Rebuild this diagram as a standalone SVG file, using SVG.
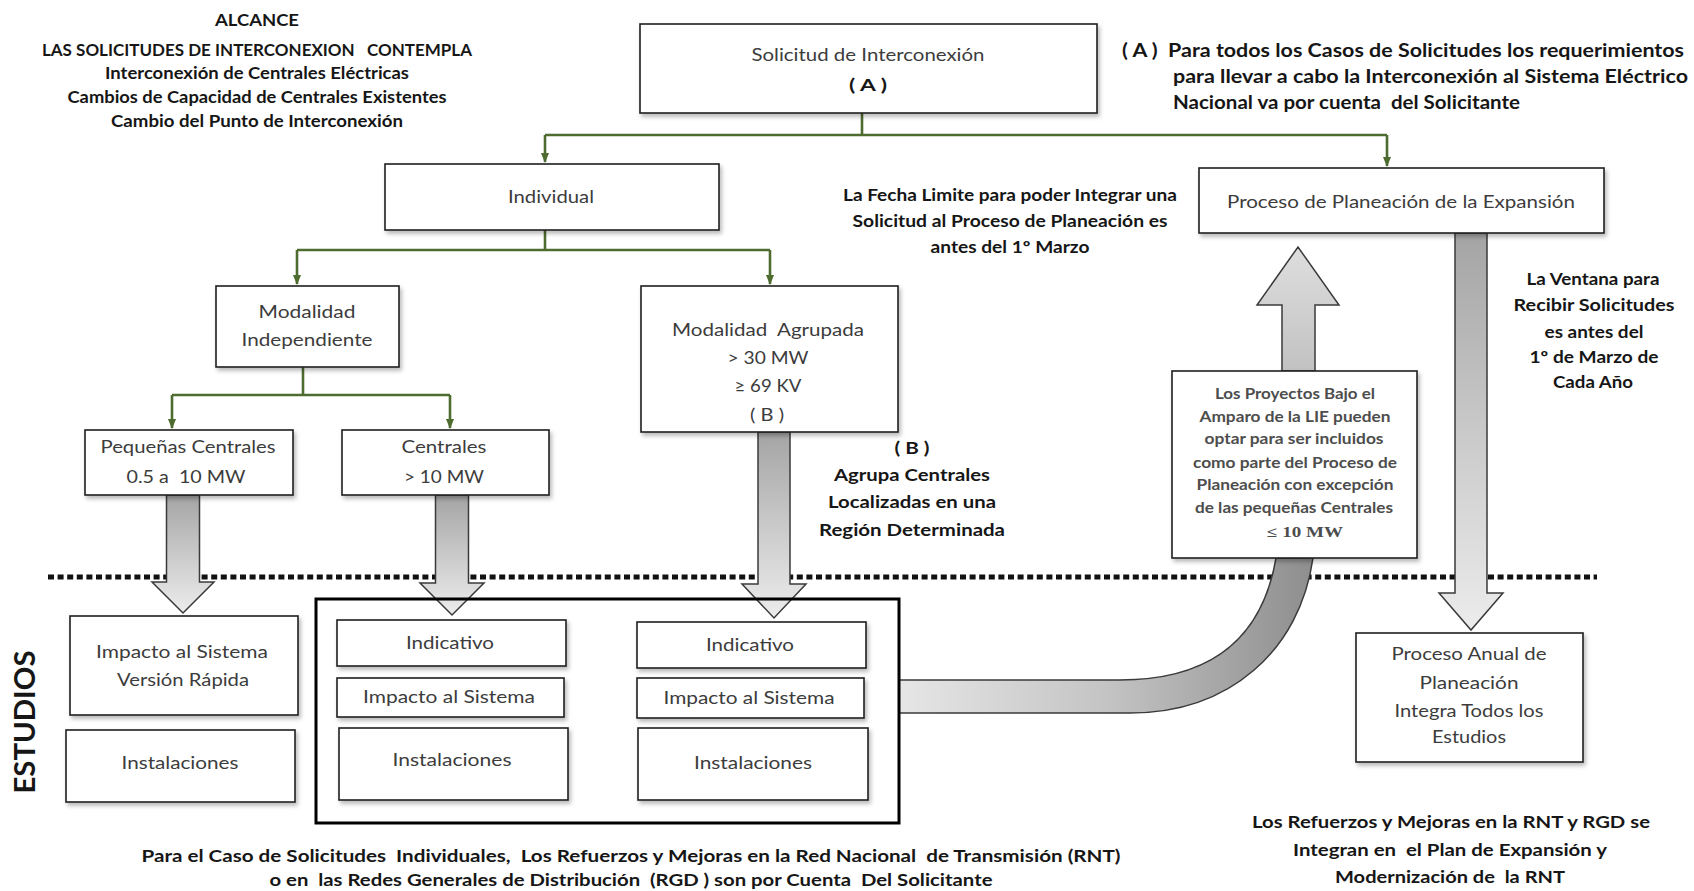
<svg xmlns="http://www.w3.org/2000/svg" width="1694" height="891" viewBox="0 0 1694 891">
<style>
text { font-family: Lato, "Liberation Sans", "Noto Sans", sans-serif; }
.n { font-size: 18px; fill: #3c3c3c; text-anchor: middle; }
.b { font-size: 17px; font-weight: bold; fill: #161616; text-anchor: middle; }
.bl { font-size: 18px; font-weight: bold; fill: #161616; text-anchor: start; }
.p { font-size: 14.5px; font-weight: bold; fill: #4d4d4d; text-anchor: middle; }
.box { fill: #ffffff; stroke: #1e1e1e; stroke-width: 1.6; filter: url(#sh); }
.g { fill: none; stroke: #4e6b30; stroke-width: 2.6; }
.ga { fill: none; stroke: #4e6b30; stroke-width: 2.6; marker-end: url(#ah); }
.blk { stroke: #3a3a3a; stroke-width: 1.5; }
</style>
<defs>
<filter id="sh" x="-10%" y="-10%" width="125%" height="135%">
<feDropShadow dx="2" dy="3" stdDeviation="2" flood-color="#000000" flood-opacity="0.28"/>
</filter>
<marker id="ah" viewBox="0 0 10 10" refX="9" refY="5" markerWidth="10" markerHeight="10" markerUnits="userSpaceOnUse" orient="auto">
<path d="M0,1 L10,5 L0,9 z" fill="#4e6b30"/>
</marker>
<linearGradient id="gd" x1="0" y1="0" x2="0" y2="1">
<stop offset="0" stop-color="#a4a4a4"/>
<stop offset="0.55" stop-color="#cdcdcd"/>
<stop offset="1" stop-color="#ececec"/>
</linearGradient>
<linearGradient id="gu" x1="0" y1="1" x2="0" y2="0">
<stop offset="0" stop-color="#c2c2c2"/>
<stop offset="1" stop-color="#dedede"/>
</linearGradient>
<linearGradient id="gb" gradientUnits="userSpaceOnUse" x1="899" y1="0" x2="1313" y2="0">
<stop offset="0" stop-color="#e6e6e6"/>
<stop offset="0.5" stop-color="#c4c4c4"/>
<stop offset="1" stop-color="#8e8e8e"/>
</linearGradient>
</defs>
<rect x="0" y="0" width="1694" height="891" fill="#ffffff"/>

<!-- dotted separator -->
<line x1="48" y1="577" x2="1597" y2="577" stroke="#111" stroke-width="5" stroke-dasharray="6 3.6"/>

<!-- connectors -->
<g id="connectors">
<path class="g" d="M862,113 V135"/>
<path class="g" d="M545,135 H1387"/>
<path class="ga" d="M545,135 V162"/>
<path class="ga" d="M1387,135 V166"/>
<path class="g" d="M545,230 V250"/>
<path class="g" d="M297,250 H770"/>
<path class="ga" d="M297,250 V284"/>
<path class="ga" d="M770,250 V284"/>
<path class="g" d="M303,367 V395"/>
<path class="g" d="M172,395 H450"/>
<path class="ga" d="M172,395 V428"/>
<path class="ga" d="M450,395 V428"/>
<path class="blk" fill="url(#gd)" d="M166.5,495 H199.5 V582 H214 L183,613 L152,582 H166.5 Z"/>
<path class="blk" fill="url(#gd)" d="M435.5,495 H468.5 V583 H484 L452,615 L420,583 H435.5 Z"/>
<path class="blk" fill="url(#gd)" d="M758,432 H790 V584 H806 L774,618 L742,584 H758 Z"/>
<path class="blk" fill="url(#gd)" d="M1455,233 H1487 V593 H1503 L1471,630 L1439,593 H1455 Z"/>
<path class="blk" fill="url(#gu)" d="M1282,371 V305 H1257 L1298,247 L1339,305 H1315 V371 Z"/>
<path class="blk" fill="url(#gb)" d="M899,680 H1120 C1210,680 1262,640 1276,558 H1313 C1300,650 1230,713 1130,713 H899 Z"/>
</g>

<!-- scope text -->
<g id="alcance">
<text class="b" x="257" y="26" font-size="16" textLength="84" lengthAdjust="spacingAndGlyphs">ALCANCE</text>
<text class="b" x="257" y="56" font-size="16" xml:space="preserve" textLength="430" lengthAdjust="spacingAndGlyphs">LAS SOLICITUDES DE INTERCONEXION   CONTEMPLA</text>
<text class="b" x="257" y="79" font-size="16" textLength="304" lengthAdjust="spacingAndGlyphs">Interconexión de Centrales Eléctricas</text>
<text class="b" x="257" y="103" font-size="16" textLength="379" lengthAdjust="spacingAndGlyphs">Cambios de Capacidad de Centrales Existentes</text>
<text class="b" x="257" y="127" font-size="16" textLength="292" lengthAdjust="spacingAndGlyphs">Cambio del Punto de Interconexión</text>
</g>

<g id="solicitud">
<rect class="box" x="640" y="24" width="457" height="89"/>
<text class="n" x="868" y="61" textLength="233" lengthAdjust="spacingAndGlyphs">Solicitud de Interconexión</text>
<text class="b" x="868" y="91" font-size="18" xml:space="preserve" textLength="38" lengthAdjust="spacingAndGlyphs">( A )</text>
</g>

<g id="nota-a">
<text class="bl" x="1122" y="57" xml:space="preserve" textLength="562" lengthAdjust="spacingAndGlyphs">( A )  Para todos los Casos de Solicitudes los requerimientos</text>
<text class="bl" x="1173" y="83" textLength="515" lengthAdjust="spacingAndGlyphs">para llevar a cabo la Interconexión al Sistema Eléctrico</text>
<text class="bl" x="1173" y="109" xml:space="preserve" textLength="347" lengthAdjust="spacingAndGlyphs">Nacional va por cuenta  del Solicitante</text>
</g>

<g id="individual">
<rect class="box" x="385" y="164" width="334" height="66"/>
<text class="n" x="551" y="203" textLength="86" lengthAdjust="spacingAndGlyphs">Individual</text>
</g>

<g id="nota-fecha">
<text class="b" x="1010" y="201" textLength="334" lengthAdjust="spacingAndGlyphs">La Fecha Limite para poder Integrar una</text>
<text class="b" x="1010" y="227" textLength="315" lengthAdjust="spacingAndGlyphs">Solicitud al Proceso de Planeación es</text>
<text class="b" x="1010" y="253" textLength="159" lengthAdjust="spacingAndGlyphs">antes del 1º Marzo</text>
</g>

<g id="proceso-planeacion">
<rect class="box" x="1199" y="168" width="405" height="65"/>
<text class="n" x="1401" y="208" textLength="348" lengthAdjust="spacingAndGlyphs">Proceso de Planeación de la Expansión</text>
</g>

<g id="nota-ventana">
<text class="b" x="1593" y="285" textLength="133" lengthAdjust="spacingAndGlyphs">La Ventana para</text>
<text class="b" x="1594" y="311" textLength="161" lengthAdjust="spacingAndGlyphs">Recibir Solicitudes</text>
<text class="b" x="1594" y="338" textLength="99" lengthAdjust="spacingAndGlyphs">es antes del</text>
<text class="b" x="1594" y="363" textLength="129" lengthAdjust="spacingAndGlyphs">1º de Marzo de</text>
<text class="b" x="1593" y="388" textLength="80" lengthAdjust="spacingAndGlyphs">Cada Año</text>
</g>

<g id="modalidad-independiente">
<rect class="box" x="216" y="286" width="183" height="81"/>
<text class="n" x="307" y="318" textLength="97" lengthAdjust="spacingAndGlyphs">Modalidad</text>
<text class="n" x="307" y="346" textLength="131" lengthAdjust="spacingAndGlyphs">Independiente</text>
</g>

<g id="modalidad-agrupada">
<rect class="box" x="641" y="286" width="257" height="146"/>
<text class="n" x="768" y="336" xml:space="preserve" textLength="192" lengthAdjust="spacingAndGlyphs">Modalidad  Agrupada</text>
<text class="n" x="768" y="364" textLength="81" lengthAdjust="spacingAndGlyphs">&gt; 30 MW</text>
<text class="n" x="768" y="392" textLength="67" lengthAdjust="spacingAndGlyphs">≥ 69 KV</text>
<text class="n" x="767" y="421" xml:space="preserve" textLength="34" lengthAdjust="spacingAndGlyphs">( B )</text>
</g>

<g id="nota-b">
<text class="b" x="912" y="454" xml:space="preserve" textLength="35" lengthAdjust="spacingAndGlyphs">( B )</text>
<text class="b" x="912" y="481" textLength="156" lengthAdjust="spacingAndGlyphs">Agrupa Centrales</text>
<text class="b" x="912" y="508" textLength="168" lengthAdjust="spacingAndGlyphs">Localizadas en una</text>
<text class="b" x="912" y="536" textLength="186" lengthAdjust="spacingAndGlyphs">Región Determinada</text>
</g>

<g id="pequenas-centrales">
<rect class="box" x="85" y="430" width="208" height="65"/>
<text class="n" x="188" y="453" textLength="175" lengthAdjust="spacingAndGlyphs">Pequeñas Centrales</text>
<text class="n" x="186" y="483" xml:space="preserve" textLength="119" lengthAdjust="spacingAndGlyphs">0.5 a  10 MW</text>
</g>

<g id="centrales">
<rect class="box" x="342" y="430" width="207" height="65"/>
<text class="n" x="444" y="453" textLength="85" lengthAdjust="spacingAndGlyphs">Centrales</text>
<text class="n" x="444" y="483" textLength="80" lengthAdjust="spacingAndGlyphs">&gt; 10 MW</text>
</g>

<g id="proyectos-lie">
<rect class="box" x="1172" y="371" width="245" height="187"/>
<text class="p" x="1295" y="399" textLength="160" lengthAdjust="spacingAndGlyphs">Los Proyectos Bajo el</text>
<text class="p" x="1295" y="422" textLength="191" lengthAdjust="spacingAndGlyphs">Amparo de la LIE pueden</text>
<text class="p" x="1294" y="444" textLength="179" lengthAdjust="spacingAndGlyphs">optar para ser incluidos</text>
<text class="p" x="1295" y="468" textLength="204" lengthAdjust="spacingAndGlyphs">como parte del Proceso de</text>
<text class="p" x="1295" y="490" textLength="197" lengthAdjust="spacingAndGlyphs">Planeación con excepción</text>
<text class="p" x="1294" y="513" textLength="198" lengthAdjust="spacingAndGlyphs">de las pequeñas Centrales</text>
<text class="p" x="1305" y="537" style="font-family:'Liberation Serif',serif" textLength="76" lengthAdjust="spacingAndGlyphs">≤ 10 MW</text>
</g>

<g id="estudios-label">
<text transform="translate(35,722) rotate(-90)" text-anchor="middle" font-size="28" font-weight="bold" fill="#161616" textLength="143" lengthAdjust="spacingAndGlyphs">ESTUDIOS</text>
</g>

<g id="impacto-rapido">
<rect class="box" x="70" y="616" width="228" height="99"/>
<text class="n" x="182" y="658" textLength="172" lengthAdjust="spacingAndGlyphs">Impacto al Sistema</text>
<text class="n" x="183" y="686" textLength="132" lengthAdjust="spacingAndGlyphs">Versión Rápida</text>
</g>
<g id="instalaciones-1">
<rect class="box" x="66" y="730" width="229" height="72"/>
<text class="n" x="180" y="769" textLength="117" lengthAdjust="spacingAndGlyphs">Instalaciones</text>
</g>

<g id="estudios-grupo">
<rect x="316" y="599" width="583" height="224" fill="none" stroke="#000" stroke-width="3"/>
</g>

<g id="indicativo-1">
<rect class="box" x="337" y="620" width="229" height="46"/>
<text class="n" x="450" y="649" textLength="88" lengthAdjust="spacingAndGlyphs">Indicativo</text>
</g>
<g id="impacto-1">
<rect class="box" x="337" y="678" width="227" height="39"/>
<text class="n" x="449" y="703" textLength="172" lengthAdjust="spacingAndGlyphs">Impacto al Sistema</text>
</g>
<g id="instalaciones-2">
<rect class="box" x="339" y="728" width="229" height="72"/>
<text class="n" x="452" y="766" textLength="119" lengthAdjust="spacingAndGlyphs">Instalaciones</text>
</g>

<g id="indicativo-2">
<rect class="box" x="637" y="622" width="229" height="46"/>
<text class="n" x="750" y="651" textLength="88" lengthAdjust="spacingAndGlyphs">Indicativo</text>
</g>
<g id="impacto-2">
<rect class="box" x="637" y="678" width="227" height="40"/>
<text class="n" x="749" y="704" textLength="171" lengthAdjust="spacingAndGlyphs">Impacto al Sistema</text>
</g>
<g id="instalaciones-3">
<rect class="box" x="638" y="728" width="230" height="72"/>
<text class="n" x="753" y="769" textLength="118" lengthAdjust="spacingAndGlyphs">Instalaciones</text>
</g>

<g id="proceso-anual">
<rect class="box" x="1356" y="633" width="227" height="129"/>
<text class="n" x="1469" y="660" textLength="155" lengthAdjust="spacingAndGlyphs">Proceso Anual de</text>
<text class="n" x="1469" y="689" textLength="99" lengthAdjust="spacingAndGlyphs">Planeación</text>
<text class="n" x="1469" y="717" textLength="149" lengthAdjust="spacingAndGlyphs">Integra Todos los</text>
<text class="n" x="1469" y="743" textLength="74" lengthAdjust="spacingAndGlyphs">Estudios</text>
</g>

<g id="nota-rnt">
<text class="b" x="1451" y="828" font-size="18" textLength="398" lengthAdjust="spacingAndGlyphs">Los Refuerzos y Mejoras en la RNT y RGD se</text>
<text class="b" x="1450" y="856" font-size="18" xml:space="preserve" textLength="314" lengthAdjust="spacingAndGlyphs">Integran en  el Plan de Expansión y</text>
<text class="b" x="1450" y="883" font-size="18" xml:space="preserve" textLength="230" lengthAdjust="spacingAndGlyphs">Modernización de  la RNT</text>
</g>

<g id="nota-individuales">
<text class="b" x="631" y="862" xml:space="preserve" textLength="979" lengthAdjust="spacingAndGlyphs">Para el Caso de Solicitudes  Individuales,  Los Refuerzos y Mejoras en la Red Nacional  de Transmisión (RNT)</text>
<text class="b" x="631" y="886" xml:space="preserve" textLength="723" lengthAdjust="spacingAndGlyphs">o en  las Redes Generales de Distribución  (RGD ) son por Cuenta  Del Solicitante</text>
</g>
</svg>
